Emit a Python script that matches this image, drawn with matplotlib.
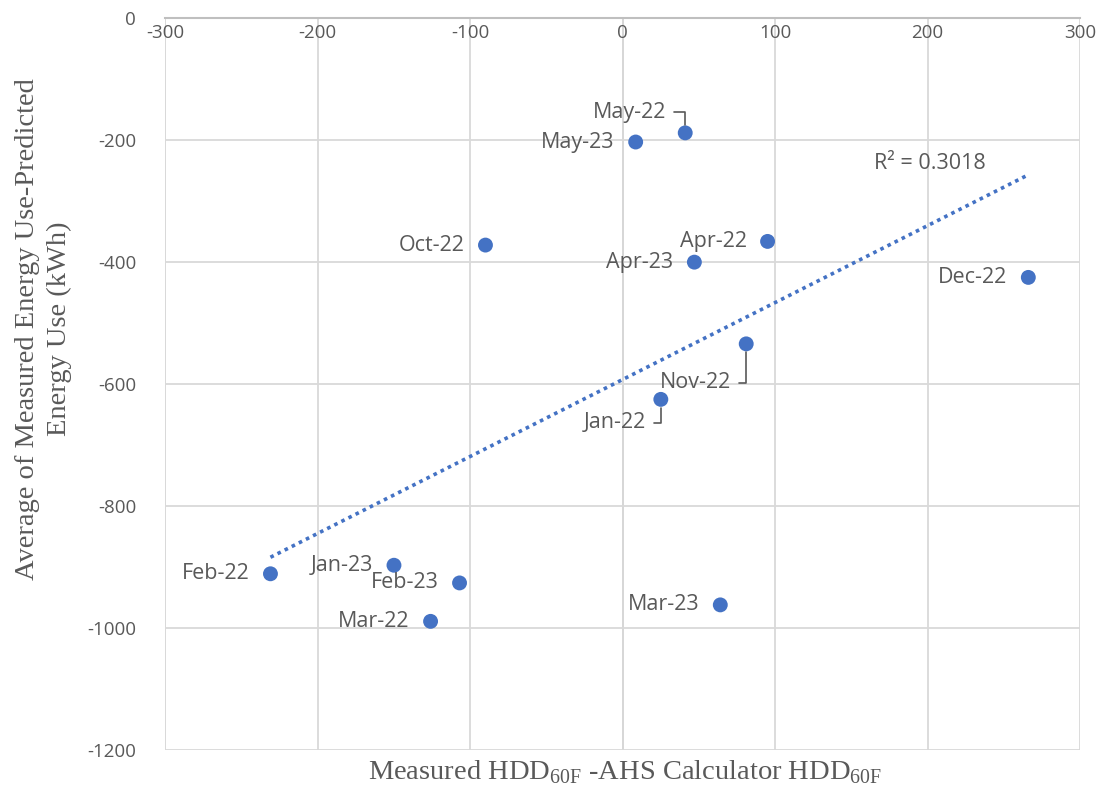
import numpy as np
import matplotlib
matplotlib.use('Agg')
import matplotlib.pyplot as plt

plt.rcParams['mathtext.fontset'] = 'custom'
plt.rcParams['mathtext.rm'] = 'Liberation Serif'
plt.rcParams['axes.unicode_minus'] = False

# data
months = ['May-22', 'May-23', 'Oct-22', 'Apr-22', 'Apr-23', 'Dec-22', 'Nov-22',
          'Jan-22', 'Feb-22', 'Jan-23', 'Feb-23', 'Mar-22', 'Mar-23']
hdd_diff = [41, 8.5, -90, 95, 47, 266, 81, 25, -231, -150, -107, -126, 64]
energy_diff = [-188, -203, -372, -366, -400, -425, -534, -625, -911, -897, -926, -989, -962]
x_ticks = [-300, -200, -100, 0, 100, 200, 300]
y_ticks = [0, -200, -400, -600, -800, -1000, -1200]

blue = '#4472C4'
grey = '#595959'

fig = plt.figure(figsize=(11.09, 7.92), dpi=100)
ax = fig.add_axes([0.149, 0.053, 0.825, 0.924])

ax.set_xlim(-300, 300)
ax.set_ylim(-1200, 0)
ax.set_xticks(x_ticks)
ax.set_yticks(y_ticks)
ax.grid(True, color='#d9d9d9', lw=1.3)
ax.set_axisbelow(True)
for s in ['top', 'right', 'left']:
    ax.spines[s].set_visible(False)
ax.spines['bottom'].set_position(('data', 0))
ax.spines['bottom'].set_color('#bfbfbf')
ax.spines['bottom'].set_linewidth(1.5)
ax.axvline(0, color='#bfbfbf', lw=1.3, zorder=0.5)
ax.axvline(-300, color='#d9d9d9', lw=1.3, zorder=0.5)
ax.tick_params(length=0, labelsize=13.5, labelcolor=grey)
ax.tick_params(axis='y', pad=21)
ax.tick_params(axis='x', pad=4)
for lab in ax.get_xticklabels() + ax.get_yticklabels():
    lab.set_fontfamily('Open Sans')

# trendline
k, b = np.polyfit(hdd_diff, energy_diff, 1)
xs = np.array([min(hdd_diff), max(hdd_diff)])
ax.plot(xs, k * xs + b, ls=(0, (1, 1.2)), color=blue, lw=2.6, zorder=2)
ax.text(165, -238, 'R² = 0.3018', fontsize=15.5, color=grey, family='Open Sans',
        ha='left', va='center')

ax.scatter(hdd_diff, energy_diff, s=115, color=blue, zorder=3, edgecolors='none')

# label offsets (points)
offs = {'May-22': (-14, 15), 'Nov-22': (-11, -28), 'Jan-22': (-11, -17)}
for m, x, y in zip(months, hdd_diff, energy_diff):
    if m in offs:
        ax.annotate(m, (x, y), xytext=offs[m], textcoords='offset points',
                    ha='right', va='center', fontsize=15.5, color=grey, family='Open Sans',
                    arrowprops=dict(arrowstyle='-', color=grey, lw=1.2,
                                    relpos=(1, 0.5), shrinkA=4, shrinkB=6,
                                    connectionstyle='angle,angleA=0,angleB=90,rad=0'))
    else:
        ax.annotate(m, (x, y), xytext=(-15, 0), textcoords='offset points',
                    ha='right', va='center', fontsize=15.5, color=grey, family='Open Sans')

fig.text(0.564, 0.025, 'Measured HDD$_{\\mathrm{60F}}$ -AHS Calculator HDD$_{\\mathrm{60F}}$',
         ha='center', va='center', fontsize=20.5, color=grey, family='Liberation Serif')
fig.text(0.039, 0.585, 'Average of Measured Energy Use-Predicted\nEnergy Use (kWh)',
         ha='center', va='center', rotation=90, fontsize=20.5, color=grey,
         family='Liberation Serif', linespacing=1.35)

fig.savefig('out.png', dpi=100, facecolor='white')
